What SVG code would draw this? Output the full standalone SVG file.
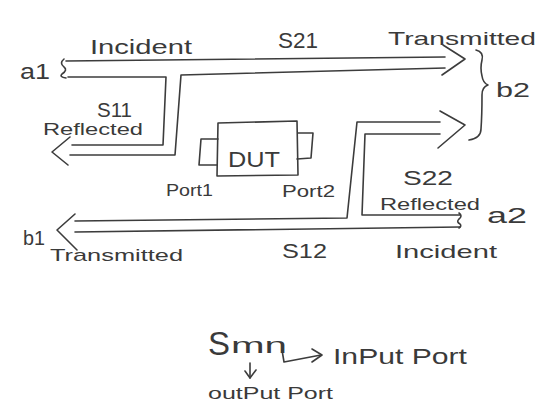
<svg xmlns="http://www.w3.org/2000/svg" width="543" height="408" viewBox="0 0 543 408">
<defs>
<style>
.ln{fill:none;stroke:#3c3c3c;stroke-width:1.6;stroke-linejoin:round;stroke-linecap:round}
.t{font-family:"Liberation Sans",Arial,sans-serif;fill:#3a3a3a}
</style>
</defs>
<rect width="543" height="408" fill="#ffffff"/>
<g id="connectors">
  <!-- a1 incident to b2 transmitted (S21) with S11 reflected branch -->
  <path class="ln" d="M66,61 L445,57"/>
  <path class="ln" d="M68,77 L166,77 L163,145 L72,145"/>
  <path class="ln" d="M70,155 L175,155 L181,75 L445,68"/>
  <path class="ln" d="M443,45 L465,59 L442,75"/>
  <path class="ln" d="M70,137 L52,152 L68,165"/>
  <path class="ln" d="M64,59 q-5,4 0,8 q4,3 -2,7 q-3,3 4,4"/>
  <!-- a2 incident to b1 transmitted (S12) with S22 reflected branch -->
  <path class="ln" d="M440,122 L357,122 L347,218 L75,221"/>
  <path class="ln" d="M440,134 L365,134 L362,215 L460,215"/>
  <path class="ln" d="M75,232 L460,227"/>
  <path class="ln" d="M440,111 L465,125 L438,148"/>
  <path class="ln" d="M75,214 L57,230 L77,250"/>
  <path class="ln" d="M459,213 q4,3 0,6 q-3,3 1,5 q2,2 -1,4"/>
  <!-- b2 brace -->
  <path class="ln" d="M476,50 q8,2 6,10 q-2,8 0,16 q1,7 6,9 q-6,2 -6,10 q0,20 -1,34 q0,9 -12,11"/>
  <!-- legend arrows -->
  <path class="ln" d="M282,350 L284,362 L321,355"/>
  <path class="ln" d="M312,349 L322,355 L312,362"/>
  <path class="ln" d="M250,363 L250,378"/>
  <path class="ln" d="M245,371 L250,378 L256,370"/>
</g>
<g id="dut">
  <path class="ln" d="M218,123 L297,121 L298,175 L217,176 Z"/>
  <text class="t" x="228" y="167" font-size="22" textLength="52" lengthAdjust="spacingAndGlyphs">DUT</text>
</g>
<g id="port1">
  <path class="ln" d="M218,139 L201,139 L199,165 L217,165"/>
  <text class="t" x="166" y="196" font-size="16" textLength="47" lengthAdjust="spacingAndGlyphs">Port1</text>
</g>
<g id="port2">
  <path class="ln" d="M298,133 L313,133 L311,158 L297,159"/>
  <text class="t" x="282" y="197" font-size="16" textLength="53" lengthAdjust="spacingAndGlyphs">Port2</text>
</g>
<g id="a1"><text class="t" x="20" y="79" font-size="22" textLength="30" lengthAdjust="spacingAndGlyphs">a1</text></g>
<g id="incident-top"><text class="t" x="90" y="54" font-size="20" textLength="102" lengthAdjust="spacingAndGlyphs">Incident</text></g>
<g id="s21"><text class="t" x="278" y="48" font-size="22" textLength="40" lengthAdjust="spacingAndGlyphs">S21</text></g>
<g id="transmitted-top"><text class="t" x="388" y="45" font-size="19" textLength="148" lengthAdjust="spacingAndGlyphs">Transmitted</text></g>
<g id="s11"><text class="t" x="97" y="117" font-size="20" textLength="35" lengthAdjust="spacingAndGlyphs">S11</text></g>
<g id="reflected-left"><text class="t" x="43" y="135" font-size="17" textLength="100" lengthAdjust="spacingAndGlyphs">Reflected</text></g>
<g id="b2"><text class="t" x="496" y="97" font-size="21" textLength="34" lengthAdjust="spacingAndGlyphs">b2</text></g>
<g id="s22"><text class="t" x="403" y="185" font-size="20" textLength="50" lengthAdjust="spacingAndGlyphs">S22</text></g>
<g id="reflected-right"><text class="t" x="380" y="210" font-size="17" textLength="100" lengthAdjust="spacingAndGlyphs">Reflected</text></g>
<g id="a2"><text class="t" x="487" y="223" font-size="22" textLength="40" lengthAdjust="spacingAndGlyphs">a2</text></g>
<g id="b1"><text class="t" x="23" y="245" font-size="21" textLength="22" lengthAdjust="spacingAndGlyphs">b1</text></g>
<g id="transmitted-bottom"><text class="t" x="50" y="261" font-size="17" textLength="133" lengthAdjust="spacingAndGlyphs">Transmitted</text></g>
<g id="s12"><text class="t" x="282" y="258" font-size="20" textLength="45" lengthAdjust="spacingAndGlyphs">S12</text></g>
<g id="incident-bottom"><text class="t" x="395" y="258" font-size="19" textLength="102" lengthAdjust="spacingAndGlyphs">Incident</text></g>
<g id="legend">
  <text class="t" x="208" y="355" font-size="34" textLength="22" lengthAdjust="spacingAndGlyphs">S</text>
  <text class="t" x="231" y="353" font-size="22" textLength="56" lengthAdjust="spacingAndGlyphs">mn</text>
  <text class="t" x="333" y="364" font-size="22" textLength="134" lengthAdjust="spacingAndGlyphs">InPut Port</text>
  <text class="t" x="208" y="399" font-size="17" textLength="125" lengthAdjust="spacingAndGlyphs">outPut Port</text>
</g>
</svg>
